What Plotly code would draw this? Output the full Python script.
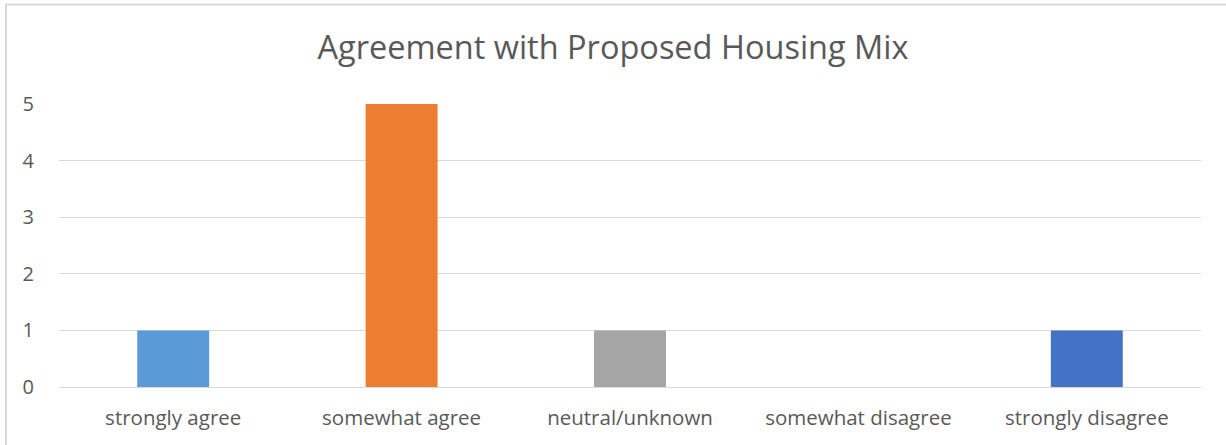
import plotly.graph_objects as go

categories = ["strongly agree", "somewhat agree", "neutral/unknown", "somewhat disagree", "strongly disagree"]
counts = [1, 5, 1, 0, 1]
colors = ["#5B9BD5", "#ED7D31", "#A5A5A5", "#FFC000", "#4472C4"]
y_ticks = [0, 1, 2, 3, 4, 5]

W, H = 1226, 445
L, R, T, B = 59, 25, 104, 58
pw, ph = W - L - R, H - T - B

fig = go.Figure(go.Bar(
    x=categories, y=counts, marker_color=colors, width=0.315,
    marker_line_width=0,
))

font = "Open Sans"
fig.update_layout(
    width=W, height=H,
    margin=dict(l=L, r=R, t=T, b=B),
    paper_bgcolor="white", plot_bgcolor="white",
    showlegend=False,
    title=dict(text="Agreement with Proposed Housing Mix", x=0.5, xanchor="center",
               y=1 - 48 / H, yanchor="middle",
               font=dict(family=font, size=32.5, color="#595959")),
    font=dict(family=font, size=20, color="#595959"),
    xaxis=dict(showgrid=False, showline=False, ticks="", ticklabelstandoff=16,
               tickfont=dict(family=font, size=20.5, color="#595959")),
    yaxis=dict(range=[0, 5], tickvals=y_ticks, showgrid=True, gridcolor="#D9D9D9",
               gridwidth=1, zeroline=True, zerolinecolor="#D9D9D9", zerolinewidth=1,
               showline=False, ticks="", ticklabelstandoff=24,
               tickfont=dict(family=font, size=20, color="#595959")),
)

# outer chart border (left and top edges visible)
x_left = (6 - L) / pw
y_top = (H - B - 4.5) / ph
y_bot = (H - B - H - 5) / ph
x_right = (W + 5 - L) / pw
fig.add_shape(type="line", xref="paper", yref="paper", x0=x_left, x1=x_right, y0=y_top, y1=y_top,
              line=dict(color="#D9D9D9", width=2))
fig.add_shape(type="line", xref="paper", yref="paper", x0=x_left, x1=x_left, y0=y_bot, y1=y_top,
              line=dict(color="#D9D9D9", width=2))

fig.write_html("out.html")
